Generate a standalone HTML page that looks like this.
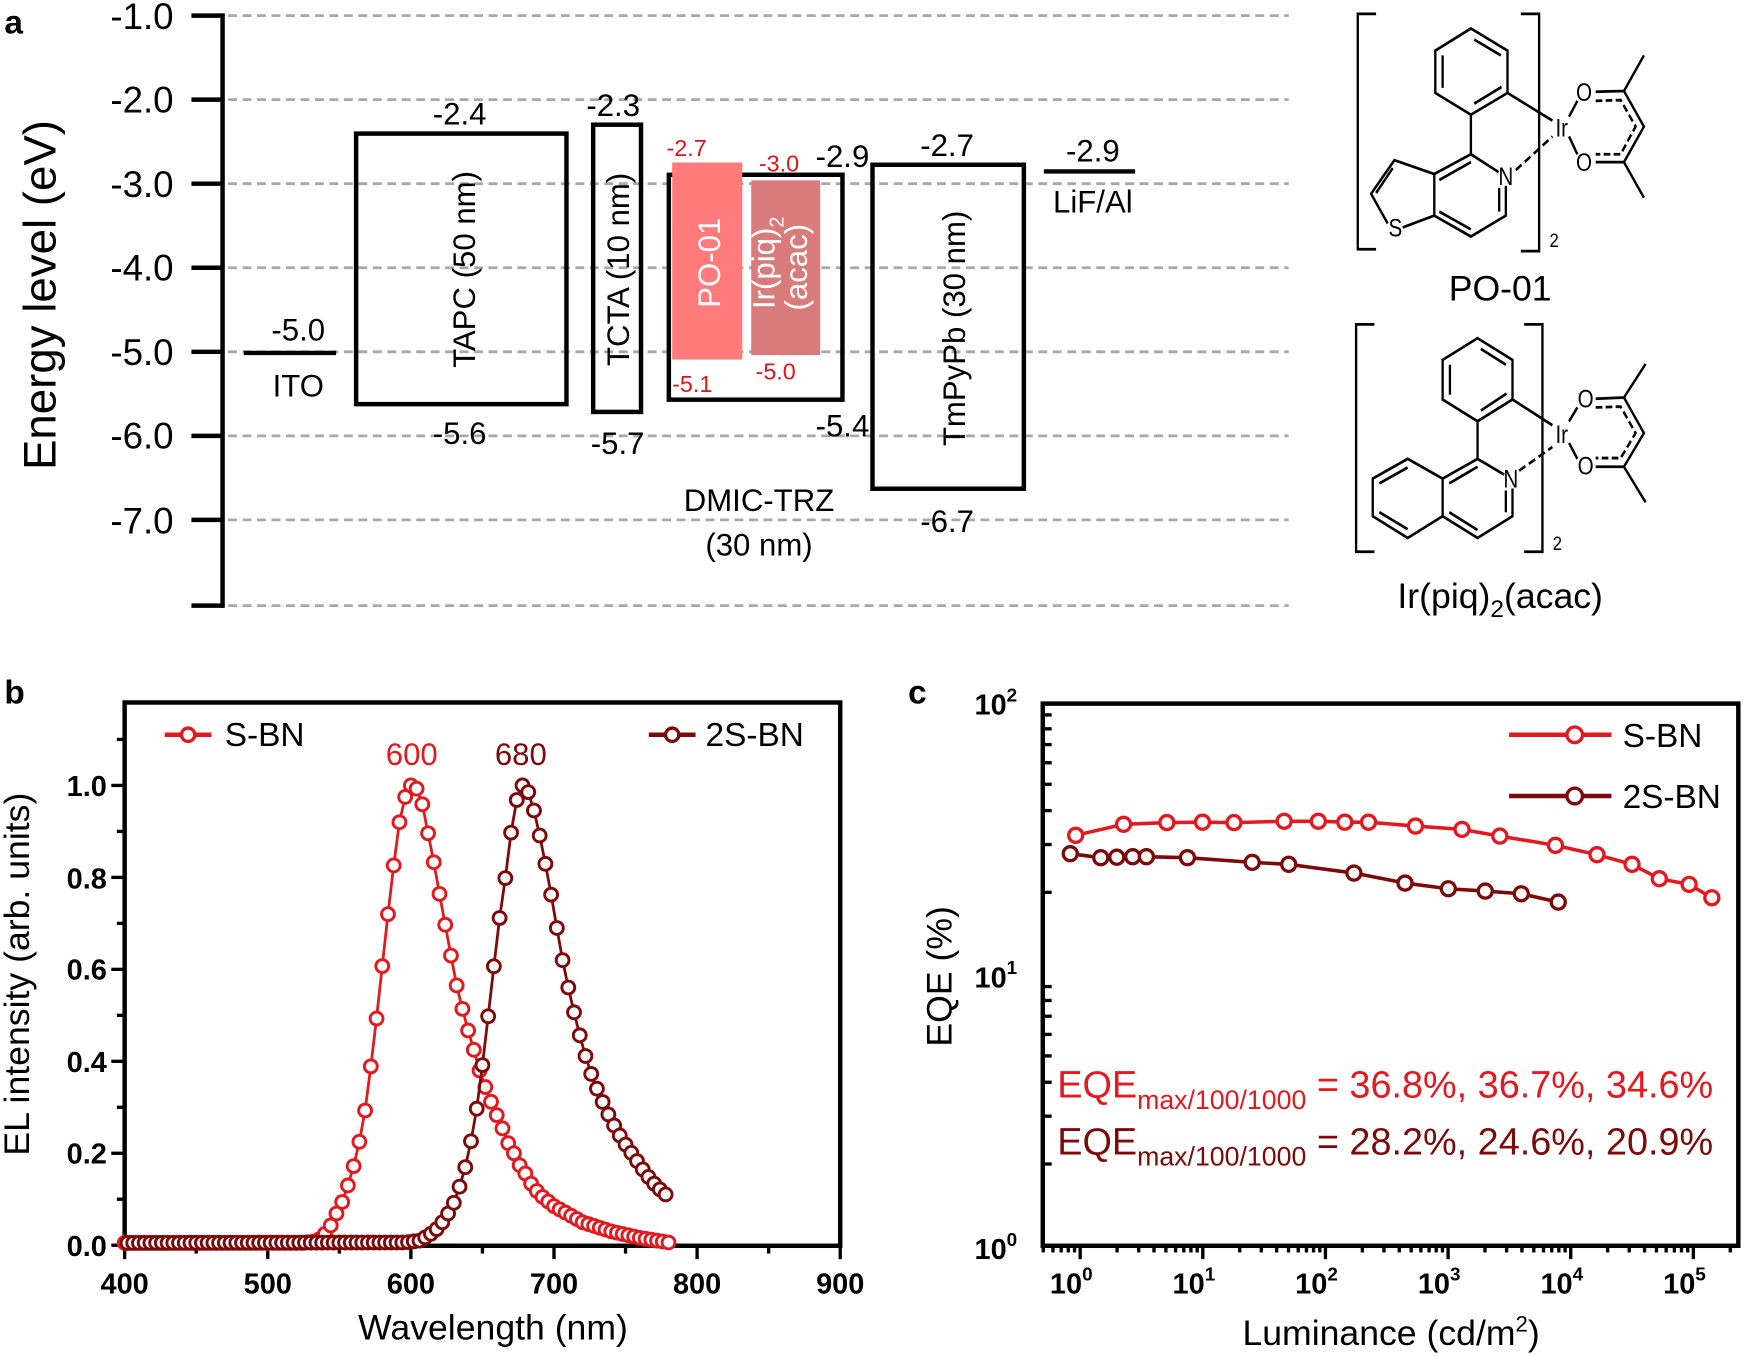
<!DOCTYPE html>
<html><head><meta charset="utf-8"><style>
html,body{margin:0;padding:0;background:#fff;}
svg{display:block;font-family:"Liberation Sans",Arial,sans-serif;}
</style></head><body>
<svg id="s" width="1745" height="1356" viewBox="0 0 1568 1218" preserveAspectRatio="none" xmlns="http://www.w3.org/2000/svg">
<rect width="1568" height="1218" fill="#fff"/>
<!-- ===== Panel a ===== -->
<text x="4" y="30" font-size="30" font-weight="bold">a</text>
<g stroke="#a8a8a8" stroke-width="2.5" stroke-dasharray="8,5">
<line x1="205" y1="14" x2="1158" y2="14"/><line x1="205" y1="89.5" x2="1158" y2="89.5"/>
<line x1="205" y1="165" x2="1158" y2="165"/><line x1="205" y1="240.5" x2="1158" y2="240.5"/>
<line x1="205" y1="316" x2="1158" y2="316"/><line x1="205" y1="391.5" x2="1158" y2="391.5"/>
<line x1="205" y1="467" x2="1158" y2="467"/><line x1="205" y1="544" x2="1158" y2="544"/>
</g>
<g stroke="#000" stroke-width="4">
<line x1="200" y1="12" x2="200" y2="546"/>
<line x1="172" y1="14" x2="200" y2="14"/><line x1="172" y1="89.5" x2="200" y2="89.5"/>
<line x1="172" y1="165" x2="200" y2="165"/><line x1="172" y1="240.5" x2="200" y2="240.5"/>
<line x1="172" y1="316" x2="200" y2="316"/><line x1="172" y1="391.5" x2="200" y2="391.5"/>
<line x1="172" y1="467" x2="200" y2="467"/><line x1="172" y1="544" x2="200" y2="544"/>
</g>
<g font-size="33" text-anchor="end">
<text x="156" y="26">-1.0</text><text x="156" y="101">-2.0</text><text x="156" y="177">-3.0</text>
<text x="156" y="252">-4.0</text><text x="156" y="328">-5.0</text><text x="156" y="403">-6.0</text>
<text x="156" y="479">-7.0</text>
</g>
<text transform="translate(50,265) rotate(-90)" font-size="41" text-anchor="middle">Energy level (eV)</text>
<!-- ITO -->
<line x1="219" y1="317" x2="302" y2="317" stroke="#000" stroke-width="4"/>
<g font-size="28" text-anchor="middle">
<text x="268" y="306">-5.0</text><text x="268" y="356">ITO</text>
<text x="413" y="112">-2.4</text><text x="413" y="399">-5.6</text>
<text x="551" y="104">-2.3</text><text x="555" y="408">-5.7</text>
<text x="757" y="150">-2.9</text><text x="757" y="392">-5.4</text>
<text x="682" y="459">DMIC-TRZ</text><text x="682" y="499">(30 nm)</text>
<text x="851" y="140">-2.7</text><text x="851" y="478">-6.7</text>
<text x="982" y="145">-2.9</text><text x="982" y="191">LiF/Al</text>
</g>
<g fill="none" stroke="#000" stroke-width="4">
<rect x="320" y="120" width="189" height="243"/>
<rect x="533" y="112" width="43" height="258"/>
<rect x="601" y="157" width="156" height="202"/>
<rect x="784" y="148" width="136" height="291"/>
</g>
<line x1="938" y1="154" x2="1020" y2="154" stroke="#000" stroke-width="4"/>
<rect x="604" y="146" width="63" height="177" fill="#ff7b7b"/>
<rect x="675" y="162" width="62" height="157" fill="#d97b7b"/>
<g font-size="28" text-anchor="middle">
<text transform="translate(427,242) rotate(-90)">TAPC (50 nm)</text>
<text transform="translate(565,242) rotate(-90)">TCTA (10 nm)</text>
<text transform="translate(867,295) rotate(-90)">TmPyPb (30 nm)</text>
<text transform="translate(647,236) rotate(-90)" fill="#fff">PO-01</text>
<text transform="translate(696,236) rotate(-90)" fill="#fff">Ir(piq)<tspan font-size="18" dy="8">2</tspan></text>
<text transform="translate(725,240) rotate(-90)" fill="#fff">(acac)</text>
</g>
<g font-size="21" fill="#e0141c" text-anchor="middle">
<text x="617" y="140">-2.7</text><text x="700" y="154">-3.0</text>
<text x="622" y="352">-5.1</text><text x="697" y="341">-5.0</text>
</g>
<!-- molecules -->
<g transform="translate(1203.6,0) scale(0.299,0.3553)" fill="none" stroke="#000" stroke-width="7">
<path d="M110,35 H55 V630 H110 M545,35 H600 V635 H545"/>
<path d="M395,72 L505,128 L505,235 L395,290 L288,235 L288,128 Z"/>
<path d="M405,100 L485,140 M487,220 L405,262 M310,140 L310,222"/>
<path d="M505,235 L640,305 M395,290 L395,390 L478,435 M500,470 L500,545 L395,598 L285,545 L285,440 L395,390"/>
<path d="M480,475 L480,535 M395,410 L300,455 M300,535 L395,580"/>
<path d="M285,440 L165,405 L95,490 L145,565 M190,575 L285,545 M160,425 L110,488"/>
<path d="M530,430 L640,345" stroke-dasharray="22,12"/>
<path d="M690,295 L715,255 M690,345 L715,390 M770,232 L855,230 L915,140 M855,230 L915,320 L855,410 L915,500 M770,410 L855,410"/>
<path d="M770,255 L845,253 L890,320 L845,390 L770,390" stroke-dasharray="20,10"/>
<path d="M105,820 H50 V1395 H105 M555,820 H610 V1395 H555"/>
<path d="M415,855 L520,910 L520,1010 L415,1065 L310,1010 L310,910 Z"/>
<path d="M425,882 L500,922 M502,995 L425,1038 M332,922 L332,998"/>
<path d="M520,1010 L640,1075 M415,1065 L415,1160 L495,1200 M520,1235 L520,1305 L415,1360 L310,1305 L310,1210 L415,1160"/>
<path d="M500,1240 L500,1295 M415,1180 L330,1222 M330,1295 L415,1340"/>
<path d="M310,1210 L205,1160 L100,1210 L100,1305 L205,1360 L310,1305 M205,1182 L120,1222 M120,1295 L205,1338"/>
<path d="M540,1190 L640,1130" stroke-dasharray="22,12"/>
<path d="M690,1065 L715,1030 M690,1120 L715,1160 M770,1008 L855,1005 L920,920 M855,1005 L915,1095 L855,1180 L920,1270 M770,1180 L855,1180"/>
<path d="M770,1030 L845,1028 L890,1095 L845,1158 L770,1158" stroke-dasharray="20,10"/>
<g stroke="none" fill="#000" font-size="62" text-anchor="middle">
<text x="668" y="345">Ir</text><text x="735" y="255">O</text><text x="735" y="432">O</text>
<text x="500" y="468">N</text><text x="168" y="598">S</text>
<text x="668" y="1120">Ir</text><text x="740" y="1030">O</text><text x="740" y="1200">O</text>
<text x="515" y="1232">N</text>
<text x="645" y="625" font-size="50">2</text><text x="655" y="1390" font-size="50">2</text>
</g>
</g>
<text x="1348" y="270" font-size="32" text-anchor="middle">PO-01</text>
<text x="1348" y="546" font-size="32" text-anchor="middle">Ir(piq)<tspan font-size="22" dy="8">2</tspan><tspan dy="-8">(acac)</tspan></text>
<!-- ===== Panel b ===== -->
<text x="4" y="632" font-size="30" font-weight="bold">b</text>
<rect x="112" y="631" width="643" height="488" fill="none" stroke="#000" stroke-width="4"/>
<g id="bt" stroke="#000" stroke-width="3"></g>
<g font-size="26" font-weight="bold" text-anchor="end">
<text x="96" y="1128">0.0</text><text x="96" y="1045">0.2</text><text x="96" y="963">0.4</text>
<text x="96" y="880">0.6</text><text x="96" y="798">0.8</text><text x="96" y="715">1.0</text>
</g>
<g font-size="26" font-weight="bold" text-anchor="middle">
<text x="112" y="1162">400</text><text x="240.6" y="1162">500</text><text x="369.2" y="1162">600</text>
<text x="497.8" y="1162">700</text><text x="626.4" y="1162">800</text><text x="755" y="1162">900</text>
</g>
<text x="443" y="1203" font-size="32" text-anchor="middle">Wavelength (nm)</text>
<text transform="translate(26,875) rotate(-90)" font-size="32" text-anchor="middle">EL intensity (arb. units)</text>
<g id="bc"></g>
<line x1="148" y1="660" x2="190" y2="660" stroke="#e3191f" stroke-width="4"/>
<circle cx="169" cy="660" r="6" fill="#fff" stroke="#e3191f" stroke-width="3"/>
<text x="202" y="670" font-size="30">S-BN</text>
<line x1="583" y1="660" x2="625" y2="660" stroke="#7d0a0a" stroke-width="4"/>
<circle cx="604" cy="660" r="6" fill="#fff" stroke="#7d0a0a" stroke-width="3"/>
<text x="634" y="670" font-size="30">2S-BN</text>
<text x="370" y="687" font-size="28" fill="#e3191f" text-anchor="middle">600</text>
<text x="468" y="687" font-size="28" fill="#7d0a0a" text-anchor="middle">680</text>
<!-- ===== Panel c ===== -->
<text x="816" y="632" font-size="30" font-weight="bold">c</text>
<rect x="937" y="632" width="625" height="487" fill="none" stroke="#000" stroke-width="4"/>
<g id="ct" stroke="#000" stroke-width="3"></g>
<g font-size="26" font-weight="bold" text-anchor="end">
<text x="914" y="642">10<tspan font-size="17" dy="-12">2</tspan></text>
<text x="914" y="887">10<tspan font-size="17" dy="-12">1</tspan></text>
<text x="914" y="1131">10<tspan font-size="17" dy="-12">0</tspan></text>
</g>
<g id="cx" font-size="26" font-weight="bold" text-anchor="middle"></g>
<text x="1250" y="1208" font-size="32" text-anchor="middle">Luminance (cd/m<tspan font-size="20" dy="-12">2</tspan><tspan dy="12">)</tspan></text>
<text transform="translate(855,877) rotate(-90)" font-size="32" text-anchor="middle">EQE (%)</text>
<g id="cc"></g>
<line x1="1356" y1="660" x2="1448" y2="660" stroke="#e3191f" stroke-width="4"/>
<circle cx="1415" cy="660" r="7" fill="#fff" stroke="#e3191f" stroke-width="3"/>
<text x="1458" y="671" font-size="30">S-BN</text>
<line x1="1356" y1="715" x2="1448" y2="715" stroke="#7d0a0a" stroke-width="4"/>
<circle cx="1415" cy="715" r="7" fill="#fff" stroke="#7d0a0a" stroke-width="3"/>
<text x="1458" y="726" font-size="30">2S-BN</text>
<text x="950" y="986" font-size="34" fill="#e3191f">EQE<tspan font-size="24" dy="10">max/100/1000</tspan><tspan dy="-10"> = 36.8%, 36.7%, 34.6%</tspan></text>
<text x="950" y="1037" font-size="34" fill="#7d0a0a">EQE<tspan font-size="24" dy="10">max/100/1000</tspan><tspan dy="-10"> = 28.2%, 24.6%, 20.9%</tspan></text>
</svg>
<script>
var NS="http://www.w3.org/2000/svg";
function el(p,t,a){var e=document.createElementNS(NS,t);for(var k in a)e.setAttribute(k,a[k]);p.appendChild(e);return e;}
var bt=document.getElementById('bt');
function bx(w){return 112+(w-400)*1.286;}
function by(v){return 1118.5-v*413;}
for(var w=400;w<=900;w+=50){var mj=(w%100==0);el(bt,'line',{x1:bx(w),x2:bx(w),y1:1119,y2:1119+(mj?12:7)});}
for(var k=0;k<=11;k++){var v=k/10;var mj=(k%2==0);el(bt,'line',{x1:112,x2:112-(mj?12:7),y1:by(v),y2:by(v)});}
function interp(t,x){for(var i=0;i<t.length-1;i++){if(x>=t[i][0]&&x<=t[i+1][0]){var f=(x-t[i][0])/(t[i+1][0]-t[i][0]);return t[i][1]+f*(t[i+1][1]-t[i][1]);}}return t[t.length-1][1];}
var S=[[400,0.005],[524,0.005],[532,0.008],[536,0.013],[540,0.025],[544,0.043],[548,0.069],[552,0.094],[556,0.13],[560,0.172],[564,0.225],[568,0.293],[572,0.389],[576,0.493],[580,0.607],[584,0.72],[588,0.826],[592,0.92],[596,0.975],[600,1.0],[604,0.993],[608,0.959],[612,0.896],[616,0.833],[620,0.764],[624,0.697],[628,0.63],[632,0.565],[636,0.514],[640,0.467],[644,0.425],[648,0.38],[652,0.344],[656,0.312],[660,0.283],[664,0.254],[668,0.222],[672,0.2],[676,0.174],[680,0.156],[684,0.134],[690,0.11],[700,0.085],[720,0.05],[740,0.03],[760,0.016],[780,0.006]];
var D=[[400,0.005],[596,0.006],[606,0.01],[610,0.017],[614,0.025],[618,0.035],[622,0.05],[626.2,0.07],[630.3,0.094],[634.3,0.13],[638.4,0.174],[642.4,0.232],[646.5,0.306],[650.5,0.404],[654.6,0.514],[658.6,0.623],[662.7,0.73],[666.8,0.815],[670.8,0.918],[674.3,0.973],[678,1.0],[680,1.0],[684,0.971],[688,0.92],[692,0.862],[696,0.797],[700,0.728],[704,0.652],[708,0.588],[712,0.533],[716,0.48],[720,0.433],[724,0.39],[728,0.355],[732,0.326],[736,0.297],[740,0.272],[744,0.249],[748,0.228],[752,0.21],[756,0.192],[760,0.174],[764,0.156],[768,0.141],[772,0.127],[776,0.116],[780,0.105]];
var bc=document.getElementById('bc');
function drawSpec(t,col,off){var pts=[];for(var w=400+off;w<=780.01;w+=4){pts.push([bx(w),by(interp(t,w))]);}
el(bc,'polyline',{points:pts.map(function(p){return p.join(',')}).join(' '),fill:'none',stroke:col,'stroke-width':2.5});
pts.forEach(function(p){el(bc,'circle',{cx:p[0],cy:p[1],r:5.8,fill:'#fff',stroke:col,'stroke-width':2.6});});}
drawSpec(S,'#e3191f',0);drawSpec(D,'#7d0a0a',2);
var ct=document.getElementById('ct');
function cx(l){return 970.6+l*110.2;}
function cy(l){return 1119-l*244;}
for(var d=-1;d<=5;d++){for(var m=1;m<=9;m++){var x=cx(d+Math.log10(m));if(x<937||x>1562)continue;el(ct,'line',{x1:x,x2:x,y1:1119,y2:1119+(m==1?12:6)});}}
for(var d=0;d<2;d++){for(var m=2;m<=9;m++){var y=cy(d+Math.log10(m));el(ct,'line',{x1:937,x2:945,y1:y,y2:y});}}
var cxg=document.getElementById('cx');
for(var d=0;d<=5;d++){var t=el(cxg,'text',{x:cx(d)-8,y:1162});t.textContent='10';var s=el(t,'tspan',{'font-size':17,dy:-12});s.textContent=String(d);}
var cc=document.getElementById('cc');
var SX=[966.6,1009.6,1048.5,1080.5,1108.8,1153.9,1184.6,1208.4,1229.7,1271.9,1313.7,1347.7,1397.7,1435,1466.5,1491,1517.8,1538.2];
var SY=[750.3,740.4,738.9,738.5,738.9,737.7,737.7,738.5,738.5,742,745,751,759.3,767.7,776.4,789.3,794.4,806.4];
var DX=[961.7,989.1,1003.5,1017.8,1030.1,1067,1125.2,1158,1216.6,1262.5,1301.4,1334.6,1367,1400.2];
var DY=[766.8,770.4,770,769.5,769.5,770.4,774.6,776.4,784.2,793.2,798.3,800.4,802.8,810.3];
function drawE(X,Y,col){var p=X.map(function(x,i){return x+','+Y[i]}).join(' ');
el(cc,'polyline',{points:p,fill:'none',stroke:col,'stroke-width':3.2});
X.forEach(function(x,i){el(cc,'circle',{cx:x,cy:Y[i],r:6.3,fill:'#fff',stroke:col,'stroke-width':3});});}
drawE(SX,SY,'#e3191f');drawE(DX,DY,'#7d0a0a');
</script>
</body></html>
